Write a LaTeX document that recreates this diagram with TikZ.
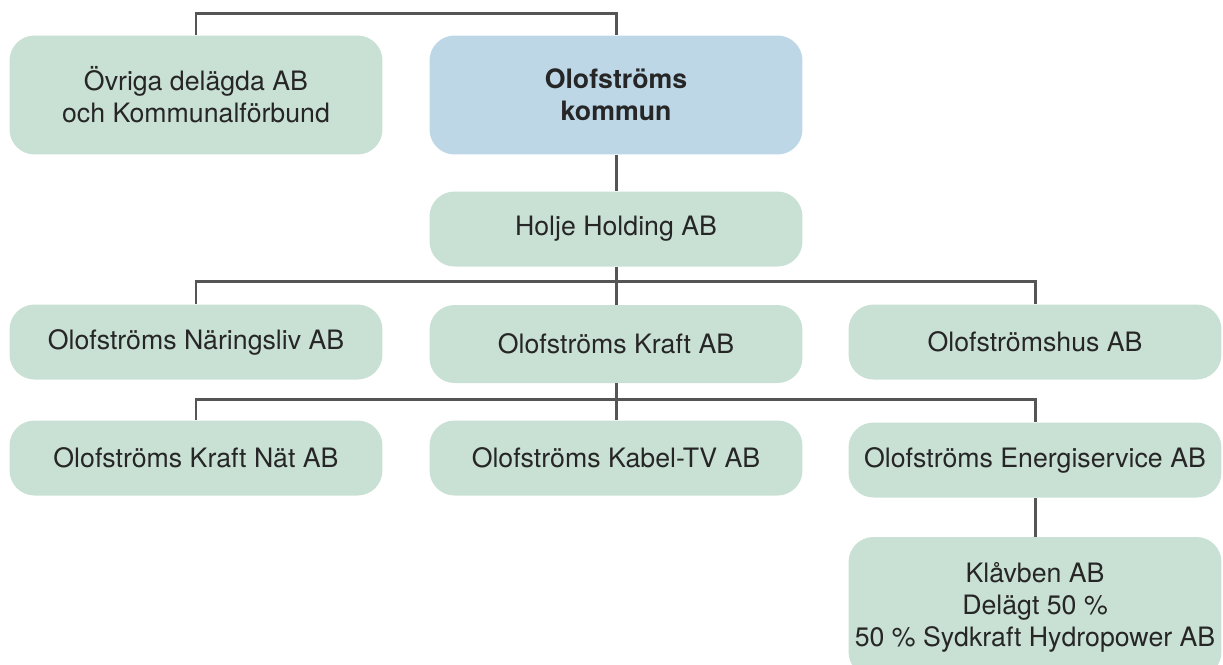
\documentclass[tikz,border=0pt]{standalone}
\usepackage{fontspec}
\setmainfont{TeX Gyre Heros}
\usepackage{xcolor}
\usepackage{tikz}

\definecolor{boxgreen}{RGB}{201,224,212}
\definecolor{boxblue}{RGB}{189,215,231}
\definecolor{linegrey}{RGB}{85,85,85}

\tikzset{
    firm/.style={fill=boxgreen, rounded corners=0.5cm, minimum width=7.46cm,
        minimum height=1.5cm, align=center, inner sep=0pt, text=black!85,
        font=\fontsize{15.2}{18.2}\selectfont},
    owner/.style={firm, fill=boxblue, font=\fontsize{15.2}{18.2}\selectfont\bfseries},
    link/.style={draw=linegrey, line width=1.7pt}
}

\begin{document}
\begin{tikzpicture}[x=0.02cm, y=-0.02cm]
        \useasboundingbox (0,0) rectangle (1223,664);

        % Top row
        \node[firm, minimum height=2.38cm] (ovriga) at (196,95) {Övriga delägda AB\\och Kommunalförbund};
        \node[owner, minimum height=2.38cm] (kommun) at (616,95) {Olofströms\\kommun};
        \node[firm] (holje) at (616,229) {Holje Holding AB};

        % Second row
        \node[firm] (naring) at (196,342) {Olofströms Näringsliv AB};
        \node[firm, minimum height=1.56cm] (kraft) at (616,344) {Olofströms Kraft AB};
        \node[firm] (hus) at (1035,342) {Olofströmshus AB};

        % Third row
        \node[firm] (kraftnat) at (196,458) {Olofströms Kraft Nät AB};
        \node[firm] (kabel) at (616,458) {Olofströms Kabel-TV AB};
        \node[firm] (energi) at (1035,460) {Olofströms Energiservice AB};
        \node[firm, minimum height=2.8cm] (klavben) at (1035,607) {Klåvben AB\\Delägt 50 \%\\50 \% Sydkraft Hydropower AB};

        % Connectors
        \coordinate (top) at (616,13);
        \coordinate (bus1) at (616,281);
        \coordinate (bus2) at (616,399);
        \draw[link] (ovriga.north) |- (top) -| (kommun.north);
        \draw[link] (kommun.south) -- (holje.north);
        \draw[link] (holje.south) -- (kraft.north);
        \draw[link] (naring.north) |- (bus1) -| (hus.north);
        \draw[link] (kraft.south) -- (kabel.north);
        \draw[link] (kraftnat.north) |- (bus2) -| (energi.north);
        \draw[link] (energi.south) -- (klavben.north);
    \end{tikzpicture}
\end{document}
